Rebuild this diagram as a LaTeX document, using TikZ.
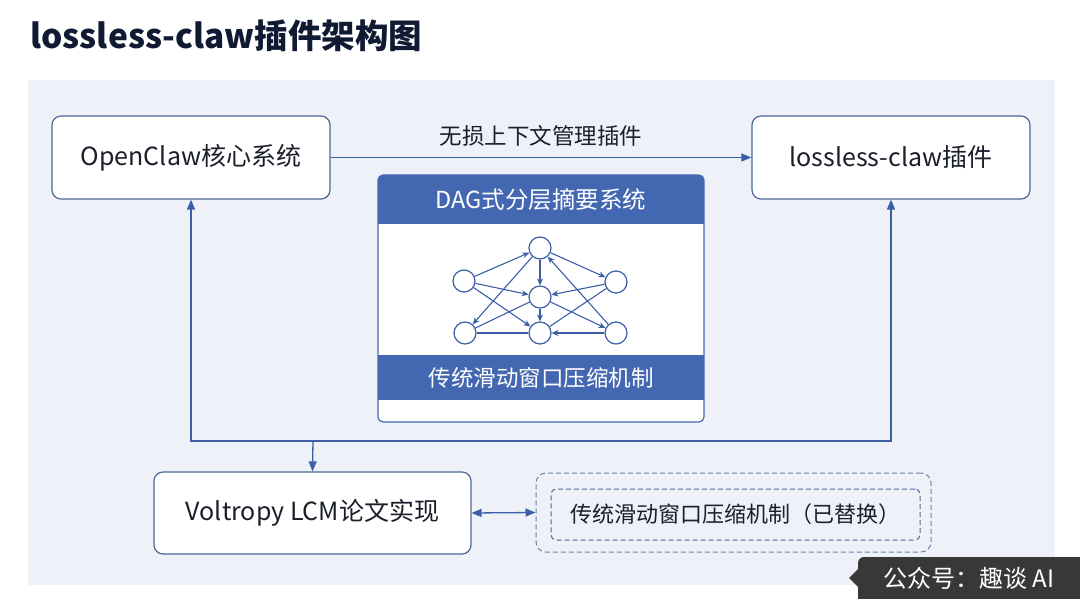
\documentclass[tikz,border=0pt]{standalone}
\usepackage{fontspec}
\setmainfont{Noto Sans CJK SC}
\usepackage{xcolor}
\usepackage{tikz}
\usetikzlibrary{arrows.meta, positioning, calc}
\definecolor{lblue}{HTML}{3B5EA6}
\definecolor{lband}{HTML}{4467B2}
\definecolor{lpanel}{HTML}{EEF2F8}
\definecolor{lline}{HTML}{4D6799}
\definecolor{ldash}{HTML}{6A7FA8}
\definecolor{ltext}{HTML}{1B1F2A}
\definecolor{ltitle}{HTML}{111A33}

\begin{document}
\begin{tikzpicture}[x=1pt, y=-1pt,
  sysbox/.style={draw=lline, line width=1.2pt, fill=white, rounded corners=9pt,
    font=\fontsize{25}{28}\selectfont, text=ltext},
  conn/.style={draw=lblue, line width=1.3pt},
  dagnode/.style={circle, draw=lblue, line width=1.2pt, fill=white, minimum size=22pt, inner sep=0pt},
  dagedge/.style={draw=lblue, line width=1.1pt, -{Stealth[length=7pt, width=6pt]}},
  dagline/.style={draw=lblue, line width=1.1pt},
  oldbox/.style={dash pattern=on 5pt off 3pt, line width=1pt}]
\useasboundingbox (0,0) rectangle (1080,599);
\fill[white] (0,0) rectangle (1080,599);
\fill[lpanel] (28,80) rectangle (1055,585);
\node[anchor=west, font=\fontsize{33.5}{36}\selectfont\bfseries, text=ltitle]
  (title) at (27,36) {lossless-claw插件架构图};

% main boxes
\node[sysbox, minimum width=278pt, minimum height=83pt] (core) at (191,157.5) {OpenClaw核心系统};
\node[sysbox, minimum width=278pt, minimum height=83pt] (plugin) at (891,157.5) {lossless-claw插件};
\node[sysbox, minimum width=317pt, minimum height=82pt] (paper) at (312.5,513) {Voltropy LCM论文实现};

% DAG panel
\begin{scope}
\clip[rounded corners=5pt] (378,175) rectangle (704,422);
\fill[white] (378,175) rectangle (704,422);
\fill[lband] (378,175) rectangle (704,224);
\fill[lband] (378,355) rectangle (704,400);
\end{scope}
\draw[lband, line width=1.2pt, rounded corners=5pt] (378,175) rectangle (704,422);
\node[font=\fontsize{23.5}{26}\selectfont, text=white] (daghead) at (541,200) {DAG式分层摘要系统};
\node[font=\fontsize{22.5}{25}\selectfont, text=white] (dagband) at (541,378) {传统滑动窗口压缩机制};

\node[dagnode] (ntop) at (540,248) {};
\node[dagnode] (nleft) at (464,281) {};
\node[dagnode] (nmid) at (540,297) {};
\node[dagnode] (nright) at (616,282) {};
\node[dagnode] (nbl) at (465,333) {};
\node[dagnode] (nbc) at (540,333) {};
\node[dagnode] (nbr) at (616,333) {};
\draw[dagedge] (nleft) -- (ntop);
\draw[dagedge] (nleft) -- (nmid);
\draw[dagedge] (nleft) -- (nbc);
\draw[dagedge] (ntop) -- (nbl);
\draw[dagline] (nbl) -- (nmid);
\draw[dagline] (nbl) -- (nbc);
\draw[dagedge] (ntop) -- (nmid);
\draw[dagedge] (nmid) -- (nbc);
\draw[dagedge] (ntop) -- (nright);
\draw[dagedge] (nright) -- (nmid);
\draw[dagedge] (nbr) -- (ntop);
\draw[dagedge] (nmid) -- (nbr);
\draw[dagline] (nright) -- (nbc);
\draw[dagedge] (nbr) -- (nbc);

% connectors
\draw[conn, -{Triangle[length=10pt, width=8pt]}] (core.east) --
  node[above=7pt, font=\fontsize{22.5}{25}\selectfont, text=ltext] (toplabel) {无损上下文管理插件} (plugin.west);
\coordinate (bus) at (313,441);
\draw[conn, {Triangle[length=10pt, width=8pt]}-{Triangle[length=10pt, width=8pt]}]
  (core.south) |- (bus) -| (plugin.south);
\draw[conn, -{Triangle[length=10pt, width=8pt]}] (bus) -- (paper.north);

% replaced mechanism
\node[oldbox, draw=ldash, rounded corners=10pt, minimum width=395pt, minimum height=79pt] (old) at (733.5,512.5) {};
\node[oldbox, draw=lline, rounded corners=5pt, minimum width=369pt, minimum height=51pt,
  font=\fontsize{22}{25}\selectfont, text=ltext] (oldin) at (735.5,514.5) {传统滑动窗口压缩机制（已替换）};
\draw[conn, {Triangle[length=10pt, width=8pt]}-{Triangle[length=10pt, width=8pt]}] (paper.east) -- (old.west);

% watermark
\fill[black!78, rounded corners=6pt] (858,557) rectangle (1092,610);
\fill[black!78] (858,569) -- (849,578) -- (858,587) -- cycle;
\node[font=\fontsize{24}{27}\selectfont, text=white] (mark) at (969,578) {公众号：趣谈 AI};
\end{tikzpicture}
\end{document}
